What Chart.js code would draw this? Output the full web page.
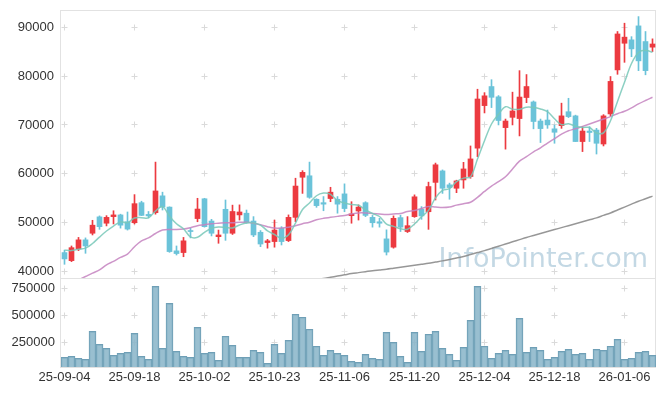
<!DOCTYPE html>
<html>
<head>
<meta charset="utf-8">
<script src="https://cdn.jsdelivr.net/npm/chart.js@4.4.1/dist/chart.umd.min.js"></script>
<style>
  html, body { margin: 0; padding: 0; background: #fff; }
  #wrap { width: 665px; height: 396px; }
</style>
</head>
<body>
<div id="wrap"><canvas id="chart" width="665" height="396"></canvas></div>
<script>
const dates = [
  '25-09-04', '25-09-05', '25-09-08', '25-09-09', '25-09-10', '25-09-11', '25-09-12', '25-09-15', '25-09-16', '25-09-17',
  '25-09-18', '25-09-19', '25-09-22', '25-09-23', '25-09-24', '25-09-25', '25-09-26', '25-09-29', '25-09-30', '25-10-01',
  '25-10-02', '25-10-10', '25-10-13', '25-10-14', '25-10-15', '25-10-16', '25-10-17', '25-10-20', '25-10-21', '25-10-22',
  '25-10-23', '25-10-24', '25-10-27', '25-10-28', '25-10-29', '25-10-30', '25-10-31', '25-11-03', '25-11-04', '25-11-05',
  '25-11-06', '25-11-07', '25-11-10', '25-11-11', '25-11-12', '25-11-13', '25-11-14', '25-11-17', '25-11-18', '25-11-19',
  '25-11-20', '25-11-21', '25-11-24', '25-11-25', '25-11-26', '25-11-27', '25-11-28', '25-12-01', '25-12-02', '25-12-03',
  '25-12-04', '25-12-05', '25-12-08', '25-12-09', '25-12-10', '25-12-11', '25-12-12', '25-12-15', '25-12-16', '25-12-17',
  '25-12-18', '25-12-19', '25-12-22', '25-12-23', '25-12-24', '25-12-26', '25-12-29', '25-12-30', '26-01-02', '26-01-05',
  '26-01-06', '26-01-07', '26-01-08', '26-01-09', '26-01-12'
];

const opens = [
  43900, 42250, 44650, 46500, 47850, 51200, 49900, 51250, 51600, 50200,
  50000, 54100, 51700, 52050, 55500, 53200, 44250, 43900, 48400, 50850,
  54900, 50350, 47150, 52750, 47850, 51600, 51950, 50350, 48050, 45950,
  46150, 48850, 46350, 51100, 59300, 59600, 54800, 54100, 54950, 54800,
  55900, 51450, 52400, 54100, 51100, 50200, 46700, 45000, 51050, 48200,
  51250, 52750, 52250, 58250, 60600, 57750, 57050, 58750, 59450, 65250,
  73950, 77850, 75750, 69450, 71550, 71300, 75600, 74700, 70800, 71000,
  69200, 69850, 72700, 71850, 66600, 68750, 68950, 66100, 72250, 81250,
  86700, 87400, 90250, 87050, 85900
];
const highs = [
  44400, 45250, 47000, 46900, 50500, 51400, 51450, 52450, 51750, 52200,
  55750, 54400, 52300, 62400, 56250, 53250, 45250, 47000, 48900, 55000,
  55000, 50700, 48500, 54650, 53600, 53650, 52600, 51250, 48400, 46600,
  50550, 49200, 51600, 59100, 60650, 62400, 54900, 55350, 57250, 55350,
  57950, 54300, 53650, 54300, 51500, 50900, 48550, 51400, 51550, 51250,
  55700, 53300, 58300, 62200, 60800, 58100, 58700, 62350, 65700, 77300,
  76600, 79250, 76000, 71200, 76700, 81100, 80300, 74900, 71200, 73050,
  70000, 74450, 75450, 72000, 69650, 69650, 69300, 72100, 79900, 89100,
  90800, 88050, 92150, 89100, 87600
];
const lows = [
  41500, 42050, 44300, 43750, 47500, 48650, 49350, 49750, 48900, 48500,
  49750, 51450, 51000, 51750, 52600, 43950, 43400, 43050, 46900, 50200,
  49100, 47300, 45800, 46400, 47600, 50550, 49900, 47150, 45100, 44800,
  45000, 45450, 46150, 50200, 56000, 55000, 53150, 52450, 54300, 51950,
  52250, 49900, 50550, 51250, 49100, 49100, 43400, 44800, 48200, 48000,
  51100, 50700, 48650, 54650, 56000, 54800, 56150, 57050, 59100, 63500,
  72450, 73550, 70000, 65050, 70000, 67750, 74550, 69200, 66400, 69300,
  66250, 69300, 71500, 66600, 64550, 66600, 64050, 65700, 71800, 80350,
  82800, 83950, 81100, 80250, 85000
];
const closes = [
  42600, 44900, 46500, 45250, 49500, 49200, 51100, 51600, 49500, 48700,
  53900, 51500, 51400, 56500, 53200, 44100, 43700, 46300, 48200, 52800,
  49200, 47850, 47500, 47850, 52300, 52200, 50000, 47500, 45650, 46300,
  48500, 46150, 51100, 57500, 60300, 55200, 53500, 53800, 56250, 53800,
  52900, 51800, 53200, 51500, 50000, 49900, 44000, 50900, 49100, 49400,
  55300, 51400, 57400, 61850, 57050, 57200, 58550, 61000, 63050, 75300,
  75950, 75650, 70900, 70800, 72850, 75700, 77850, 70700, 69250, 70000,
  68500, 71850, 71700, 66600, 68750, 68450, 66250, 71850, 78900, 88600,
  87950, 85550, 83100, 81100, 86550
];
const volumes = [
  114800, 124000, 105500, 96300, 355500, 235200, 198100, 133300, 151800, 161100,
  337000, 124000, 96300, 772200, 198100, 614800, 170400, 124000, 114800, 392600,
  151800, 161100, 87000, 309300, 225900, 114800, 114800, 179600, 161100, 59300,
  235200, 151800, 272200, 513000, 485200, 374100, 216700, 133300, 179600, 151800,
  133300, 77800, 68500, 142600, 105500, 96300, 346300, 253700, 124000, 68500,
  346300, 170400, 327800, 355500, 198100, 142600, 87000, 207400, 457400, 772200,
  216700, 105500, 151800, 179600, 142600, 475900, 161100, 207400, 179600, 96300,
  114800, 170400, 188900, 142600, 151800, 96300, 188900, 179600, 216700, 281500,
  96300, 105500, 161100, 170400, 133300
];

// moving averages
const ma5 = [
  44400, 44300, 44600, 44800, 45750, 47070, 48310, 49330, 50180, 50020,
  50960, 51040, 51000, 52400, 53300, 51340, 49780, 48760, 47100, 47020,
  48040, 48870, 49110, 49040, 48940, 49540, 49970, 49970, 49530, 48330,
  47590, 46820, 47540, 49910, 52710, 54050, 55520, 56060, 55810, 54510,
  54050, 53710, 53590, 52640, 51880, 51280, 49720, 49260, 48780, 48660,
  49740, 51220, 52520, 55070, 56600, 56980, 58410, 59130, 59370, 63020,
  66770, 70190, 72170, 73720, 73230, 73180, 73620, 73580, 73270, 72700,
  71260, 70060, 70260, 69730, 69480, 69470, 68350, 68380, 70840, 74810,
  78710, 82570, 84820, 85260, 84850
];
const ma20 = [
  36800, 37500, 38300, 39000, 39700, 40350, 41400, 42100, 42900, 43600,
  45100, 46300, 46900, 47800, 48500, 48600, 48600, 48700, 49000, 49400,
  49600, 49800, 49900, 50000, 50000, 50100, 50100, 49900, 49600, 49200,
  48900, 48900, 49100, 49400, 49800, 50100, 50600, 50900, 51100, 51300,
  51500, 51800, 52000, 52000, 51900, 51800, 51700, 51800, 51900, 52300,
  52500, 52900, 53300, 53200, 53100, 53200, 53600, 53900, 54200, 55200,
  56400, 57500, 58400, 59400, 61000, 62600, 63500, 64500, 65300, 66300,
  67200, 68100, 68800, 69200, 69700, 70200, 70700, 71200, 71700, 72300,
  72800, 73500, 74300, 75000, 75650
];
const ma60 = [
  null, null, null, null, null, null, null, null, null, null,
  null, null, null, null, null, null, null, null, null, null,
  null, null, null, null, null, null, null, null, null, null,
  null, null, null, null, null, null, 38400, 38600, 38850, 39100,
  39350, 39600, 39800, 40000, 40200, 40350, 40500, 40700, 40900, 41100,
  41300, 41500, 41700, 41950, 42200, 42500, 42800, 43100, 43500, 43900,
  44300, 44750, 45200, 45650, 46100, 46550, 47000, 47400, 47800, 48200,
  48600, 49000, 49400, 49800, 50200, 50600, 51000, 51500, 52000, 52600,
  53200, 53800, 54400, 54900, 55450
];

const priceTicks = [40000, 50000, 60000, 70000, 80000, 90000];
const volumeTicks = [250000, 500000, 750000];

const upColor = '#ec3a40';
const downColor = '#6bc3d9';
const candleColors = closes.map((c, i) => c >= opens[i] ? upColor : downColor);
const tickFont = { family: 'Liberation Sans', size: 13 };

// light frame, small "+" grid marks and the watermark
const panelDecor = {
  id: 'panelDecor',
  beforeDatasetsDraw(chart) {
    const { ctx, scales } = chart;
    const x = scales.x, y = scales.y, yv = scales.yv;
    ctx.save();
    ctx.strokeStyle = '#e2e2e2';
    ctx.lineWidth = 1;
    ctx.strokeRect(Math.floor(x.left) - 0.5, Math.floor(y.top) + 0.5, x.right - x.left, y.bottom - y.top);
    ctx.strokeRect(Math.floor(x.left) - 0.5, Math.floor(yv.top) + 0.5, x.right - x.left, yv.bottom - yv.top);

    ctx.strokeStyle = '#dadada';
    const xs = [];
    for (let i = 0; i < dates.length; i += 10) xs.push(Math.floor(x.getPixelForValue(i)) + 0.5);
    const ys = priceTicks.map(v => Math.floor(y.getPixelForValue(v)) + 0.5)
      .concat(volumeTicks.map(v => Math.floor(yv.getPixelForValue(v)) + 0.5));
    ctx.beginPath();
    xs.forEach(px => {
      ys.forEach(py => {
        ctx.moveTo(px - 3, py); ctx.lineTo(px + 3, py);
        ctx.moveTo(px, py - 3); ctx.lineTo(px, py + 3);
      });
    });
    ctx.stroke();

    ctx.font = '27px "DejaVu Sans"';
    ctx.fillStyle = 'rgba(155, 190, 210, 0.6)';
    ctx.textAlign = 'right';
    ctx.textBaseline = 'alphabetic';
    ctx.fillText('InfoPointer.com', 648, 267);
    ctx.restore();
  }
};

const noPad = s => { s.width = 61; s.paddingTop = 0; s.paddingBottom = 0; };

const ctx = document.getElementById('chart').getContext('2d');

new Chart(ctx, {
  data: {
    labels: dates,
    datasets: [
      { type: 'line', data: ma5, yAxisID: 'y', borderColor: 'rgba(120, 200, 185, 0.85)', borderWidth: 1.5, pointRadius: 0, tension: 0.35, order: 0 },
      { type: 'line', data: ma20, yAxisID: 'y', borderColor: 'rgba(196, 130, 192, 0.85)', borderWidth: 1.5, pointRadius: 0, tension: 0.35, order: 0 },
      { type: 'line', data: ma60, yAxisID: 'y', borderColor: 'rgba(140, 140, 140, 0.9)', borderWidth: 1.5, pointRadius: 0, tension: 0.35, order: 0 },
      {
        type: 'bar', data: lows.map((l, i) => [l, highs[i]]), yAxisID: 'y',
        backgroundColor: candleColors, barThickness: 1, grouped: false, order: 2
      },
      {
        type: 'bar', data: opens.map((o, i) => [o, closes[i]]), yAxisID: 'y',
        backgroundColor: candleColors, barThickness: 5, minBarLength: 1, grouped: false, order: 1
      },
      {
        type: 'bar', data: volumes, yAxisID: 'yv',
        backgroundColor: 'rgba(135, 180, 200, 0.85)', borderColor: '#6f9fb6', borderWidth: 1,
        barPercentage: 1, categoryPercentage: 1, grouped: false, order: 3
      }
    ]
  },
  options: {
    responsive: false,
    animation: false,
    layout: { padding: { top: 10, right: 9, left: 0, bottom: 0 } },
    plugins: { legend: { display: false }, tooltip: { enabled: false } },
    scales: {
      x: {
        type: 'category',
        offset: true,
        grid: { display: false, drawTicks: false },
        border: { display: false },
        ticks: {
          autoSkip: false, maxRotation: 0, padding: 3, color: '#333', font: tickFont,
          callback: function (val, idx) { return idx % 10 === 0 ? this.getLabelForValue(val) : null; }
        },
        afterFit: s => { s.height = 29; }
      },
      // volume axis declared first so the price panel stacks on top
      yv: {
        position: 'left', stack: 'panels', stackWeight: 89,
        min: 25000, max: 849000,
        grid: { display: false, drawTicks: false },
        border: { display: false },
        ticks: { padding: 6, color: '#333', font: tickFont, callback: v => String(v) },
        afterBuildTicks: s => { s.ticks = volumeTicks.map(v => ({ value: v })); },
        afterFit: noPad
      },
      y: {
        position: 'left', stack: 'panels', stackWeight: 268,
        min: 38700, max: 93500,
        grid: { display: false, drawTicks: false },
        border: { display: false },
        ticks: { padding: 7, color: '#333', font: tickFont, callback: v => String(v) },
        afterBuildTicks: s => { s.ticks = priceTicks.map(v => ({ value: v })); },
        afterFit: noPad
      }
    }
  },
  plugins: [panelDecor]
});
</script>
</body>
</html>
